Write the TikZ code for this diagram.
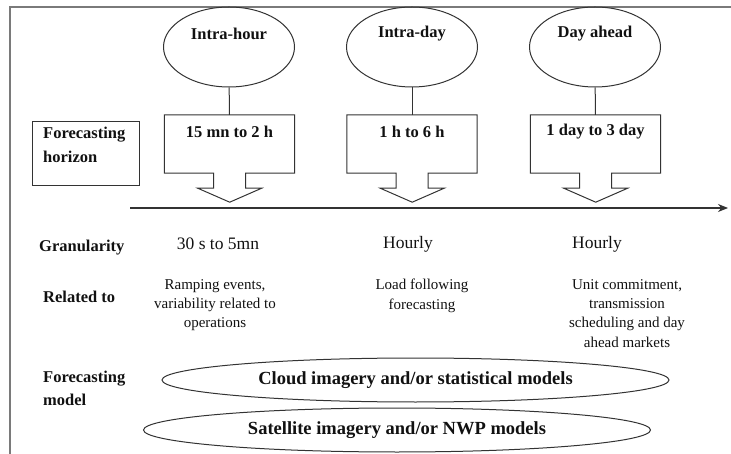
\documentclass[tikz,border=0pt]{standalone}
\usepackage{fontspec}
\setmainfont{Liberation Serif}
\usetikzlibrary{shapes.geometric,arrows.meta,calc}
\definecolor{ink}{HTML}{111111}
\definecolor{linec}{HTML}{333333}
\definecolor{framec}{HTML}{7A7A7A}
\tikzset{
  hell/.style={ellipse, draw=linec, line width=1pt, minimum width=131pt, minimum height=80pt, inner sep=0pt},
  hbox/.style={rectangle, minimum width=130pt, minimum height=58pt, inner sep=0pt},
  callout/.style={draw=linec, line width=1pt, line join=miter},
  btitle/.style={font=\fontsize{16.5}{19}\selectfont\bfseries, text=ink, inner sep=0pt},
  rowlab/.style={font=\fontsize{16.5}{23}\selectfont\bfseries, text=ink, anchor=west, align=left, inner sep=0pt},
  gran/.style={font=\fontsize{17.5}{20}\selectfont, text=ink, inner sep=0pt},
  rel/.style={font=\fontsize{15}{19.3}\selectfont, text=ink, align=center, inner sep=0pt, anchor=north},
  model/.style={ellipse, draw=linec, line width=1pt, minimum width=507pt, minimum height=44pt, inner sep=0pt, font=\fontsize{18.5}{20}\selectfont\bfseries, text=ink},
  conn/.style={draw=linec, line width=1pt}
}
\begin{document}
\begin{tikzpicture}[x=1pt,y=-1pt]
\useasboundingbox (0,0) rectangle (731,454);
% outer frame
\draw[framec, line width=1.4pt] (10,455) -- (10,7) -- (732,7);

% horizon ellipses
\node[hell] (e1) at (229,47) {};
\node[hell] (e2) at (412,47) {};
\node[hell] (e3) at (595,47) {};
\node[btitle] (t1) at (229,34) {Intra-hour};
\node[btitle] (t2) at (412,34) {Intra-day};
\node[btitle] (t3) at (595,34) {Day ahead};

% boxes
\node[hbox] (b1) at (229.5,144) {};
\node[hbox] (b2) at (412,144) {};
\node[hbox] (b3) at (595.5,144) {};
\foreach \b in {b1,b2,b3}{
  \draw[callout] (\b.south west) -- (\b.north west) -- (\b.north east) -- (\b.south east)
    -- ++(-49,0) -- ++(0,15) -- ++(16,0) -- ++(-32,14) -- ++(-32,-14) -- ++(16,0) -- ++(0,-15) -- cycle;
}
\node[btitle] (h1) at (229.5,132) {15 mn to 2 h};
\node[btitle] (h2) at (412,132) {1 h to 6 h};
\node[btitle] (h3) at (595.5,132) {1 day to 3 day};

\draw[conn] (e1) -- (b1);
\draw[conn] (e2) -- (b2);
\draw[conn] (e3) -- (b3);

% forecasting horizon label box
\node[draw=linec, line width=1pt, minimum width=107pt, minimum height=64pt, inner sep=0pt] (fh) at (85.5,154) {};
\node[rowlab, font=\fontsize{16.5}{24}\selectfont\bfseries] (fht) at (43,145) {Forecasting\\horizon};

% time axis
\coordinate (axs) at (130,208);
\coordinate (axe) at (728,208);
\draw[conn, line width=1.3pt, -{Stealth[length=10pt,width=8pt]}] (axs) -- (axe);

% granularity row
\node[rowlab] (gl) at (39,248) {Granularity};
\node[gran] (g1) at (218,244) {30 s to 5mn};
\node[gran] (g2) at (408,244) {Hourly};
\node[gran] (g3) at (597,244) {Hourly};

% related row
\node[rowlab] (rl) at (43,297) {Related to};
\node[rel] (r1) at (215,279) {Ramping events,\\variability related to\\operations};
\node[rel] (r2) at (422,279) {Load following\\forecasting};
\node[rel] (r3) at (627,279) {Unit commitment,\\transmission\\scheduling and day\\ahead markets};

% forecasting model row
\node[rowlab] (ml) at (43,388.5) {Forecasting\\model};
\node[model] (m1) at (415.5,380) {Cloud imagery and/or statistical models};
\node[model] (m2) at (397,430) {Satellite imagery and/or NWP models};
\end{tikzpicture}
\end{document}
